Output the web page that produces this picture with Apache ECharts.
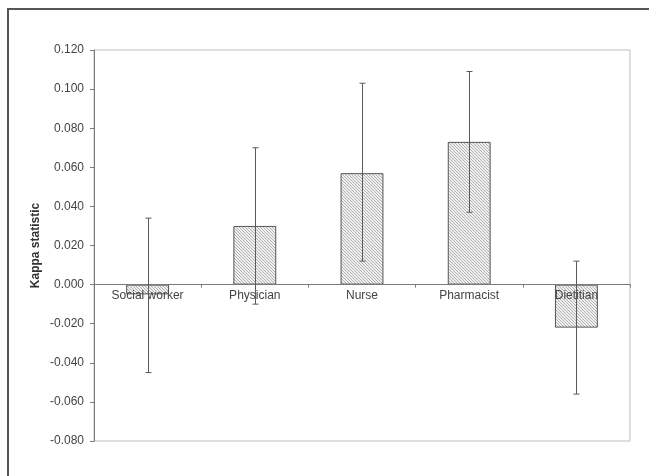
<!DOCTYPE html>
<html>
<head>
<meta charset="utf-8">
<script src="https://cdn.jsdelivr.net/npm/echarts@6/dist/echarts.min.js"></script>
<style>
html,body{margin:0;padding:0;background:#fff;}
#chart{width:649px;height:476px;}
</style>
</head>
<body>
<div id="chart"></div>
<script>
var categories = ['Social worker', 'Physician', 'Nurse', 'Pharmacist', 'Dietitian'];
var kappa = [-0.005, 0.030, 0.057, 0.073, -0.022];
var ciLow = [-0.045, -0.010, 0.012, 0.037, -0.056];
var ciHigh = [0.034, 0.070, 0.103, 0.109, 0.012];
var yTicks = { min: -0.08, max: 0.12, interval: 0.02 };

// hatch pattern
var N = 3;
var tile = document.createElement('canvas');
tile.width = N; tile.height = N;
var tc = tile.getContext('2d');
var img = tc.createImageData(N, N);
for (var py = 0; py < N; py++) {
  for (var px = 0; px < N; px++) {
    var k = (py * N + px) * 4;
    var v = (px === py) ? 178 : 240;
    img.data[k] = v; img.data[k+1] = v; img.data[k+2] = v; img.data[k+3] = 255;
  }
}
tc.putImageData(img, 0, 0);

var errData = categories.map(function (c, i) { return [i, ciLow[i], ciHigh[i]]; });

var chart = echarts.init(document.getElementById('chart'), null, { renderer: 'canvas' });
chart.setOption({
  animation: false,
  backgroundColor: '#fff',
  textStyle: { fontFamily: 'Liberation Sans, Arial, sans-serif' },
  grid: {
    left: 94, right: 19, top: 50, bottom: 35,
    show: true, borderColor: '#bdbdbd', borderWidth: 1, backgroundColor: 'transparent'
  },
  graphic: [
    { type: 'line', shape: { x1: 8, y1: 9, x2: 660, y2: 9 }, style: { stroke: '#555', lineWidth: 2 }, silent: true },
    { type: 'line', shape: { x1: 8, y1: 8, x2: 8, y2: 490 }, style: { stroke: '#555', lineWidth: 2 }, silent: true }
  ],
  xAxis: {
    type: 'category',
    data: categories,
    z: 3,
    axisLine: { onZero: true, lineStyle: { color: '#7a7a7a', width: 1 } },
    axisTick: { show: true, alignWithLabel: false, length: 3, lineStyle: { color: '#7a7a7a' } },
    axisLabel: { show: false },
    splitLine: { show: false }
  },
  yAxis: {
    type: 'value',
    min: yTicks.min, max: yTicks.max, interval: yTicks.interval,
    name: 'Kappa statistic',
    nameLocation: 'middle',
    nameGap: 52,
    nameMoveOverlap: false,
    nameRotate: 90,
    nameTextStyle: { color: '#333', fontSize: 12, fontWeight: 'bold' },
    axisLine: { show: true, lineStyle: { color: '#7a7a7a', width: 1 } },
    axisTick: { show: true, length: 4, lineStyle: { color: '#7a7a7a' } },
    axisLabel: {
      color: '#444', fontSize: 12, margin: 10,
      formatter: function (v) { return v.toFixed(3); }
    },
    splitLine: { show: false }
  },
  series: [
    {
      type: 'bar',
      data: kappa,
      barWidth: '40%',
      z: 2,
      itemStyle: {
        color: { image: tile, repeat: 'repeat' },
        borderColor: '#555',
        borderWidth: 1
      }
    },
    {
      type: 'custom',
      z: 4,
      data: errData,
      encode: { x: 0, y: [1, 2] },
      renderItem: function (params, api) {
        var i = api.value(0);
        var lo = api.coord([i, api.value(1)]);
        var hi = api.coord([i, api.value(2)]);
        var zero = api.coord([i, 0]);
        var x = Math.round(lo[0]) + 0.5;
        var cap = 3;
        var st = { stroke: '#5a5a5a', lineWidth: 1 };
        return {
          type: 'group',
          children: [
            { type: 'text', x: lo[0], y: zero[1] + 5, style: {
                text: categories[params.dataIndex], fill: '#444', fontSize: 12,
                fontFamily: 'Liberation Sans, Arial, sans-serif',
                align: 'center', verticalAlign: 'top' } },
            { type: 'line', shape: { x1: x, y1: lo[1], x2: x, y2: hi[1] }, style: st },
            { type: 'line', shape: { x1: x - cap, y1: lo[1], x2: x + cap, y2: lo[1] }, style: st },
            { type: 'line', shape: { x1: x - cap, y1: hi[1], x2: x + cap, y2: hi[1] }, style: st }
          ]
        };
      }
    }
  ]
});
</script>
</body>
</html>
